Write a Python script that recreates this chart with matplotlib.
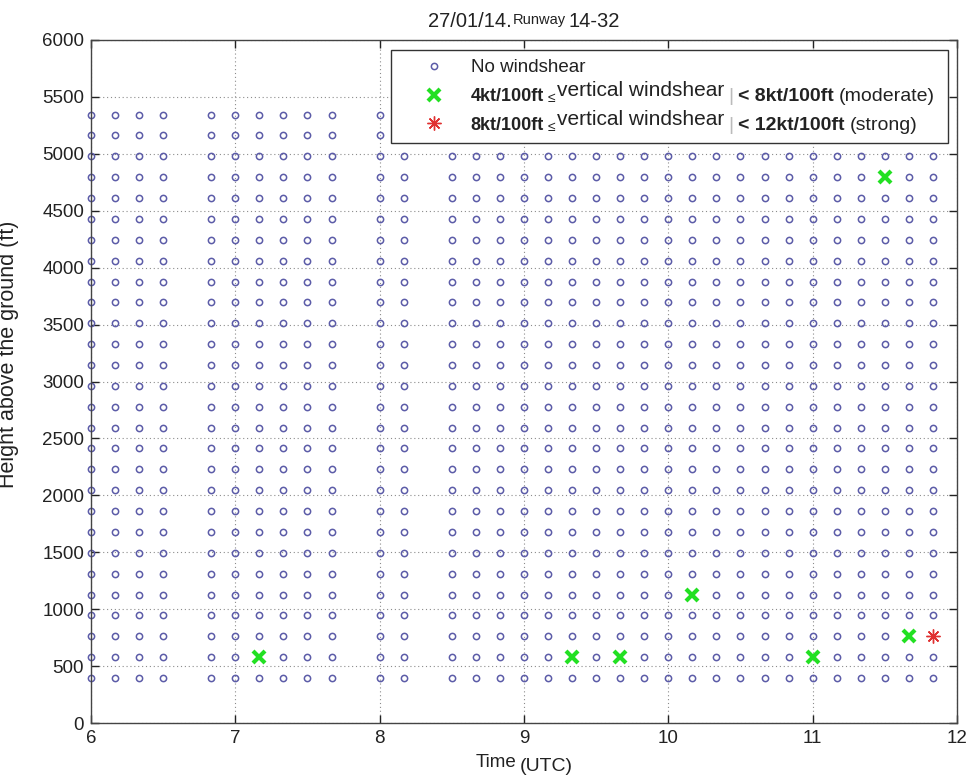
import matplotlib
matplotlib.use("Agg")
import matplotlib.pyplot as plt
from matplotlib.lines import Line2D
from matplotlib.transforms import IdentityTransform

plt.rcParams["font.family"] = ["Liberation Sans", "DejaVu Sans"]

# Messzeitpunkte (UTC): bis 08:00 reichen die Profile hoeher
times_high = ["06:00", "06:10", "06:20", "06:30", "06:50", "07:00", "07:10",
              "07:20", "07:30", "07:40", "08:00"]
times_low = ["08:10", "08:30", "08:40", "08:50", "09:00", "09:10", "09:20",
             "09:30", "09:40", "09:50", "10:00", "10:10", "10:20", "10:30",
             "10:40", "10:50", "11:00", "11:10", "11:20", "11:30", "11:40",
             "11:50"]

# Hoehenstufen (ft)
heights = [395, 578, 762, 945, 1128, 1312, 1495, 1678, 1862, 2045, 2228,
           2412, 2595, 2778, 2962, 3145, 3328, 3512, 3695, 3878, 4062, 4245,
           4428, 4612, 4795, 4978, 5162, 5345]
levels_high = 28
levels_low = 26

# Windscherungs-Ereignisse
moderate_times = ["07:10", "09:20", "09:40", "10:10", "11:00", "11:40", "11:30"]
moderate_heights = [578, 578, 578, 1128, 578, 762, 4795]
strong_times = ["11:50"]
strong_heights = [762]

x_ticks = [6, 7, 8, 9, 10, 11, 12]
y_ticks = list(range(0, 6001, 500))


def to_hours(s):
    h, m = s.split(":")
    return int(h) + int(m) / 60


events = set(zip(moderate_times, moderate_heights)) | set(zip(strong_times, strong_heights))
none_x, none_y = [], []
for times, n in [(times_high, levels_high), (times_low, levels_low)]:
    for t in times:
        for h in heights[:n]:
            if (t, h) not in events:
                none_x.append(to_hours(t))
                none_y.append(h)

blue = "#5c5ca8"
green = "#22e022"
red = "#e03030"
dark = "#222222"

fig = plt.figure(figsize=(9.73, 7.77), dpi=100)
ax = fig.add_axes([91 / 973, 54 / 777, 866 / 973, 683 / 777])

ax.plot(none_x, none_y, ls="none", marker="o", ms=4.5, mfc="none", mec=blue,
        mew=1.1, clip_on=False)
ax.plot([to_hours(t) for t in moderate_times], moderate_heights, ls="none",
        marker="x", ms=8, mec=green, mew=3, clip_on=False)
ax.plot([to_hours(t) for t in strong_times], strong_heights, ls="none",
        marker=(8, 2, 0), ms=10, mec=red, mew=1, clip_on=False)

ax.set_xlim(6, 12)
ax.set_ylim(0, 6000)
ax.set_xticks(x_ticks)
ax.set_yticks(y_ticks)
ax.tick_params(direction="in", length=6, width=1, top=True, right=True,
               labelsize=13.5, colors=dark, pad=5)
ax.grid(True, ls=(0, (1, 2.5)), lw=0.8, color="#8c8c8c")
for s in ax.spines.values():
    s.set_color("#444444")
    s.set_linewidth(1)

ax.set_ylabel("Height above the ground (ft)", fontsize=15.5, color=dark)
ax.yaxis.set_label_coords(-0.083, 0.54)

handles = [
    Line2D([], [], ls="none", marker="o", ms=4.5, mfc="none", mec=blue, mew=1.1),
    Line2D([], [], ls="none", marker="x", ms=8, mec=green, mew=3),
    Line2D([], [], ls="none", marker=(8, 2, 0), ms=10, mec=red, mew=1),
]
leg = ax.legend(handles, ["No windshear", "4kt/100ft", "8kt/100ft"],
                loc="upper left", bbox_to_anchor=(0.3464, 0.8302, 0.6432, 0.1552),
                mode="expand", borderaxespad=0, fontsize=13.5, handlelength=3.54,
                handletextpad=0.22, borderpad=0.5, labelspacing=0.62,
                fancybox=False, framealpha=1, edgecolor="#333333", numpoints=1)
leg.get_frame().set_linewidth(1)
for t in leg.get_texts():
    t.set_color(dark)
for t in leg.get_texts()[1:]:
    t.set_fontweight("bold")
    t.set_fontsize(13)

fig.canvas.draw()
r = fig.canvas.get_renderer()


def put_pieces(x, y, pieces, center=False):
    arts = []
    for s, size, weight, dy, color, gap in pieces:
        t = fig.text(x, y + dy, s, fontsize=size, fontweight=weight, color=color,
                     ha="left", va="baseline", transform=IdentityTransform())
        x = t.get_window_extent(r).x1 + gap
        arts.append(t)
    if center:
        w = arts[-1].get_window_extent(r).x1 - arts[0].get_window_extent(r).x0
        for t in arts:
            px, py = t.get_position()
            t.set_position((px - w / 2, py))
    return arts


# Legendenzeilen 2 und 3 ergaenzen
for t, upper, kind in [(leg.get_texts()[1], "< 8kt/100ft", "(moderate)"),
                       (leg.get_texts()[2], "< 12kt/100ft", "(strong)")]:
    bb = t.get_window_extent(r)
    base = t.get_transform().transform(t.get_position())[1]
    put_pieces(bb.x1 + 4, base, [
        ("\u2264", 10, "normal", -1, dark, 1),
        ("vertical windshear", 15, "normal", 5, dark, 4),
        ("|", 14, "normal", 0, "#bbbbbb", 5),
        (upper, 14, "bold", 0, dark, 5),
        (kind, 14, "normal", 0, dark, 0),
    ])

# Titel
put_pieces(524, 777 - 27, [
    ("27/01/14.", 14.5, "normal", 0, dark, 1),
    ("Runway", 10.5, "normal", 3, dark, 3),
    ("14-32", 14.5, "normal", 0, dark, 0),
], center=True)

# x-Achsenbeschriftung
put_pieces(524, 777 - 767, [
    ("Time", 13.5, "normal", 0, dark, 4),
    ("(UTC)", 14, "normal", -4, dark, 0),
], center=True)

fig.savefig("out.png", dpi=100)
